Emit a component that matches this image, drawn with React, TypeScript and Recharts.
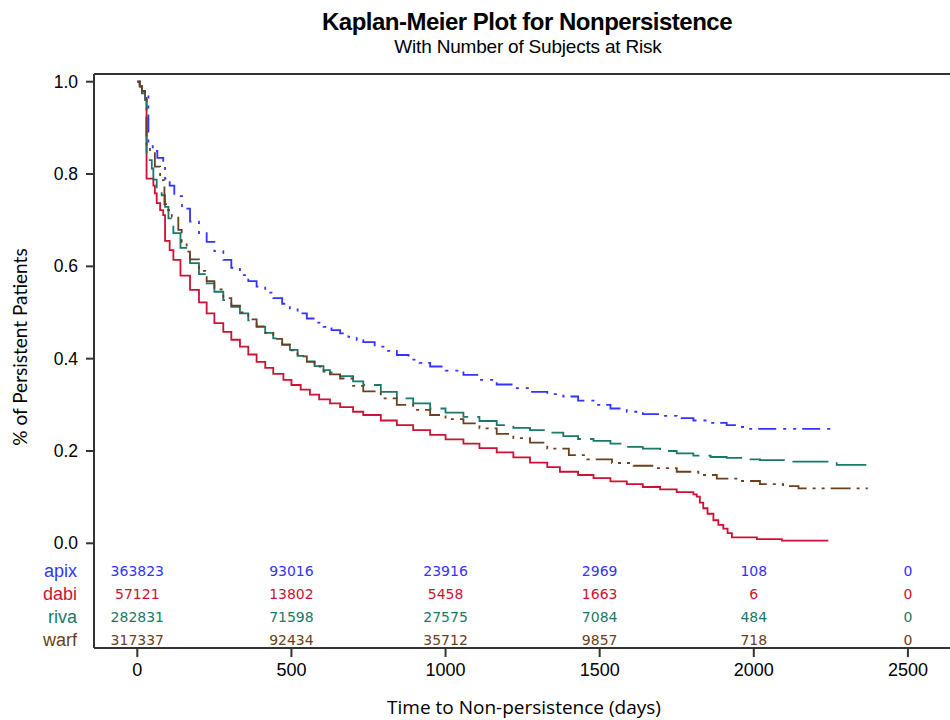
import React from 'react';
import { ComposedChart, Line, Scatter, XAxis, YAxis, ReferenceLine } from 'recharts';

// survival curves, [days, proportion still persistent]
const apix = [
  [0, 1.0], [8, 0.99], [15, 0.98], [25, 0.97], [36, 0.87], [50, 0.85], [65, 0.835], [84, 0.82], [90, 0.79],
  [105, 0.775], [120, 0.752], [145, 0.725], [171, 0.697], [200, 0.672], [225, 0.653], [250, 0.633], [279, 0.614],
  [305, 0.597], [333, 0.581], [360, 0.568], [387, 0.556], [415, 0.543], [441, 0.531], [470, 0.519], [495, 0.509],
  [520, 0.498], [550, 0.487], [575, 0.478], [604, 0.469], [630, 0.462], [658, 0.455], [685, 0.447], [712, 0.44],
  [733, 0.436], [770, 0.426], [805, 0.417], [842, 0.408], [880, 0.398], [915, 0.391], [950, 0.383], [1000, 0.374],
  [1058, 0.365], [1110, 0.354], [1166, 0.344], [1220, 0.336], [1274, 0.328], [1330, 0.323], [1382, 0.318],
  [1430, 0.309], [1480, 0.3], [1535, 0.292], [1588, 0.285], [1640, 0.28], [1696, 0.276], [1750, 0.271],
  [1804, 0.266], [1860, 0.261], [1912, 0.256], [1950, 0.252], [1977, 0.248], [2269, 0.248],
];

const dabi = [
  [0, 1.0], [8, 0.99], [15, 0.98], [25, 0.965], [30, 0.79], [52, 0.775], [57, 0.758], [63, 0.737], [74, 0.722],
  [84, 0.711], [90, 0.655], [105, 0.635], [117, 0.614], [140, 0.58], [171, 0.549], [200, 0.522], [225, 0.498],
  [250, 0.477], [279, 0.458], [305, 0.441], [333, 0.426], [360, 0.409], [387, 0.393], [415, 0.38], [441, 0.367],
  [474, 0.354], [500, 0.343], [530, 0.333], [560, 0.322], [590, 0.312], [625, 0.303], [658, 0.295], [700, 0.285],
  [733, 0.278], [790, 0.266], [842, 0.256], [895, 0.245], [950, 0.235], [1000, 0.225], [1058, 0.216],
  [1110, 0.206], [1166, 0.197], [1220, 0.186], [1274, 0.175], [1330, 0.165], [1371, 0.155], [1430, 0.148],
  [1480, 0.141], [1535, 0.134], [1588, 0.128], [1640, 0.122], [1696, 0.117], [1750, 0.111], [1804, 0.106],
  [1815, 0.101], [1825, 0.088], [1836, 0.076], [1850, 0.064], [1869, 0.05], [1885, 0.04], [1901, 0.032],
  [1915, 0.022], [1929, 0.013], [2010, 0.009], [2091, 0.006], [2242, 0.006],
];

const riva = [
  [0, 1.0], [8, 0.99], [15, 0.975], [25, 0.96], [30, 0.83], [47, 0.812], [52, 0.788], [63, 0.769], [79, 0.754],
  [90, 0.729], [101, 0.704], [117, 0.672], [140, 0.64], [171, 0.607], [200, 0.583], [225, 0.563], [250, 0.545],
  [279, 0.527], [305, 0.512], [333, 0.498], [360, 0.483], [387, 0.469], [415, 0.456], [441, 0.444], [470, 0.431],
  [495, 0.419], [520, 0.406], [550, 0.394], [575, 0.384], [604, 0.375], [625, 0.37], [658, 0.362], [700, 0.351],
  [733, 0.343], [790, 0.328], [842, 0.314], [895, 0.303], [950, 0.292], [1000, 0.283], [1058, 0.274],
  [1110, 0.265], [1166, 0.256], [1220, 0.25], [1274, 0.245], [1330, 0.24], [1382, 0.232], [1430, 0.226],
  [1480, 0.222], [1535, 0.216], [1588, 0.209], [1640, 0.205], [1696, 0.2], [1750, 0.195], [1804, 0.19],
  [1860, 0.187], [1912, 0.185], [1965, 0.182], [2020, 0.18], [2118, 0.177], [2269, 0.17], [2365, 0.17],
];

const warf = [
  [0, 1.0], [8, 0.99], [15, 0.98], [25, 0.965], [30, 0.86], [41, 0.848], [57, 0.816], [74, 0.787], [88, 0.735],
  [100, 0.722], [112, 0.708], [133, 0.679], [144, 0.653], [160, 0.632], [171, 0.615], [200, 0.59], [225, 0.568],
  [250, 0.55], [279, 0.531], [305, 0.515], [333, 0.5], [360, 0.485], [387, 0.47], [415, 0.456], [441, 0.443],
  [470, 0.43], [495, 0.418], [520, 0.405], [550, 0.393], [575, 0.383], [604, 0.372], [625, 0.366], [658, 0.357],
  [700, 0.341], [733, 0.329], [790, 0.314], [842, 0.3], [895, 0.289], [950, 0.278], [1000, 0.269], [1058, 0.26],
  [1110, 0.249], [1166, 0.237], [1220, 0.228], [1274, 0.218], [1330, 0.205], [1400, 0.191], [1460, 0.182],
  [1540, 0.174], [1610, 0.168], [1680, 0.163], [1750, 0.155], [1820, 0.148], [1880, 0.14], [1950, 0.135],
  [2020, 0.128], [2095, 0.124], [2145, 0.119], [2370, 0.119],
];

// number at risk table
const riskTimes = [0, 500, 1000, 1500, 2000, 2500];
const apixRisk = [363823, 93016, 23916, 2969, 108, 0];
const dabiRisk = [57121, 13802, 5458, 1663, 6, 0];
const rivaRisk = [282831, 71598, 27575, 7084, 484, 0];
const warfRisk = [317337, 92434, 35712, 9857, 718, 0];

const groups = ['apix', 'dabi', 'riva', 'warf'];
const colors = ['#3333FF', '#CC1133', '#19786A', '#6A4020'];
const dashes = ['18 7 3 7 3 6', undefined, '36 9', '20 6 3 6 3 6'];
const curves = [apix, dabi, riva, warf];
const risks = [apixRisk, dabiRisk, rivaRisk, warfRisk];

const xTicks = [0, 500, 1000, 1500, 2000, 2500];
const yTicks = [0, 0.2, 0.4, 0.6, 0.8, 1.0];

// layout
const X_MIN = -140.5;
const X_MAX = 2656;
const Y_MIN = -0.2268;
const Y_MAX = 1.0167;
const RISK_ROW_Y = [-0.059, -0.1095, -0.16, -0.21];
const AXIS = '#333';
const SANS = "'Liberation Sans', Arial, sans-serif";

const toPoints = (pairs: number[][]) => pairs.map(([t, s]) => ({ t, s }));

const YTick = (props: any) => {
  const { x, y, payload } = props;
  const v = payload.value;
  const row = RISK_ROW_Y.indexOf(v);
  if (row >= 0) {
    return (
      <text x={x - 1} y={y} textAnchor="end" dominantBaseline="central" fill={colors[row]}
        fontFamily={SANS} fontSize={18}>
        {groups[row]}
      </text>
    );
  }
  return (
    <g>
      <line x1={x + 8} x2={x + 16} y1={y} y2={y} stroke={AXIS} strokeWidth={2} />
      <text x={x} y={y} textAnchor="end" dominantBaseline="central" fill="#000"
        fontFamily={SANS} fontSize={17.5}>
        {v.toFixed(1)}
      </text>
    </g>
  );
};

const RiskLabel = (color: string) => (props: any) => {
  const { cx, cy, payload } = props;
  return (
    <text x={cx} y={cy} textAnchor="middle" dominantBaseline="central" fill={color}
      fontFamily="'DejaVu Sans', Verdana, sans-serif" fontSize={14}>
      {payload.n}
    </text>
  );
};

export default function App() {
  return (
    <div style={{ position: 'absolute', left: 0, top: 0, width: 950, height: 720, overflow: 'hidden', background: '#fff' }}>
      <div style={{ position: 'absolute', left: 527, top: 9, transform: 'translateX(-50%)', whiteSpace: 'nowrap',
        fontFamily: SANS, fontWeight: 'bold', fontSize: 24, lineHeight: '26px', letterSpacing: -0.5 }}>
        Kaplan-Meier Plot for Nonpersistence
      </div>
      <div style={{ position: 'absolute', left: 528, top: 36, transform: 'translateX(-50%)', whiteSpace: 'nowrap',
        fontFamily: SANS, fontSize: 19, lineHeight: '21px', letterSpacing: -0.2 }}>
        With Number of Subjects at Risk
      </div>
      <div style={{ position: 'absolute', left: 20, top: 347, transform: 'translate(-50%, -50%) rotate(-90deg)', whiteSpace: 'nowrap',
        fontFamily: "Lato, 'Open Sans', sans-serif", fontSize: 19, lineHeight: '22px' }}>
        % of Persistent Patients
      </div>
      <div style={{ position: 'absolute', left: 524, top: 696, transform: 'translateX(-50%)', whiteSpace: 'nowrap',
        fontFamily: "'Open Sans', Lato, sans-serif", fontSize: 19, lineHeight: '22px' }}>
        Time to Non-persistence (days)
      </div>
      <ComposedChart width={956} height={720} margin={{ top: 74, right: 0, bottom: 0, left: 0 }}>
        <XAxis type="number" dataKey="t" domain={[X_MIN, X_MAX]} allowDataOverflow ticks={xTicks} interval={0}
          height={72} tickSize={9} tickMargin={6} stroke={AXIS} strokeWidth={2}
          tick={{ fill: '#000', fontSize: 18, fontFamily: SANS }} />
        <YAxis type="number" dataKey="s" domain={[Y_MIN, Y_MAX]} allowDataOverflow
          ticks={[...RISK_ROW_Y, ...yTicks]} interval={0} width={94} tickSize={8} tickMargin={8}
          tickLine={false} stroke={AXIS} strokeWidth={2} tick={<YTick />} />
        <ReferenceLine y={Y_MAX} stroke={AXIS} strokeWidth={2} />
        {curves.map((c, i) => (
          <Line key={groups[i]} data={toPoints(c)} dataKey="s" type="stepAfter" stroke={colors[i]}
            strokeWidth={1.8} strokeDasharray={dashes[i]} dot={false} activeDot={false}
            isAnimationActive={false} />
        ))}
        {risks.map((r, i) => (
          <Scatter key={'risk-' + groups[i]} isAnimationActive={false}
            data={riskTimes.map((t, k) => ({ t, s: RISK_ROW_Y[i], n: r[k] }))}
            shape={RiskLabel(colors[i])} />
        ))}
      </ComposedChart>
    </div>
  );
}
